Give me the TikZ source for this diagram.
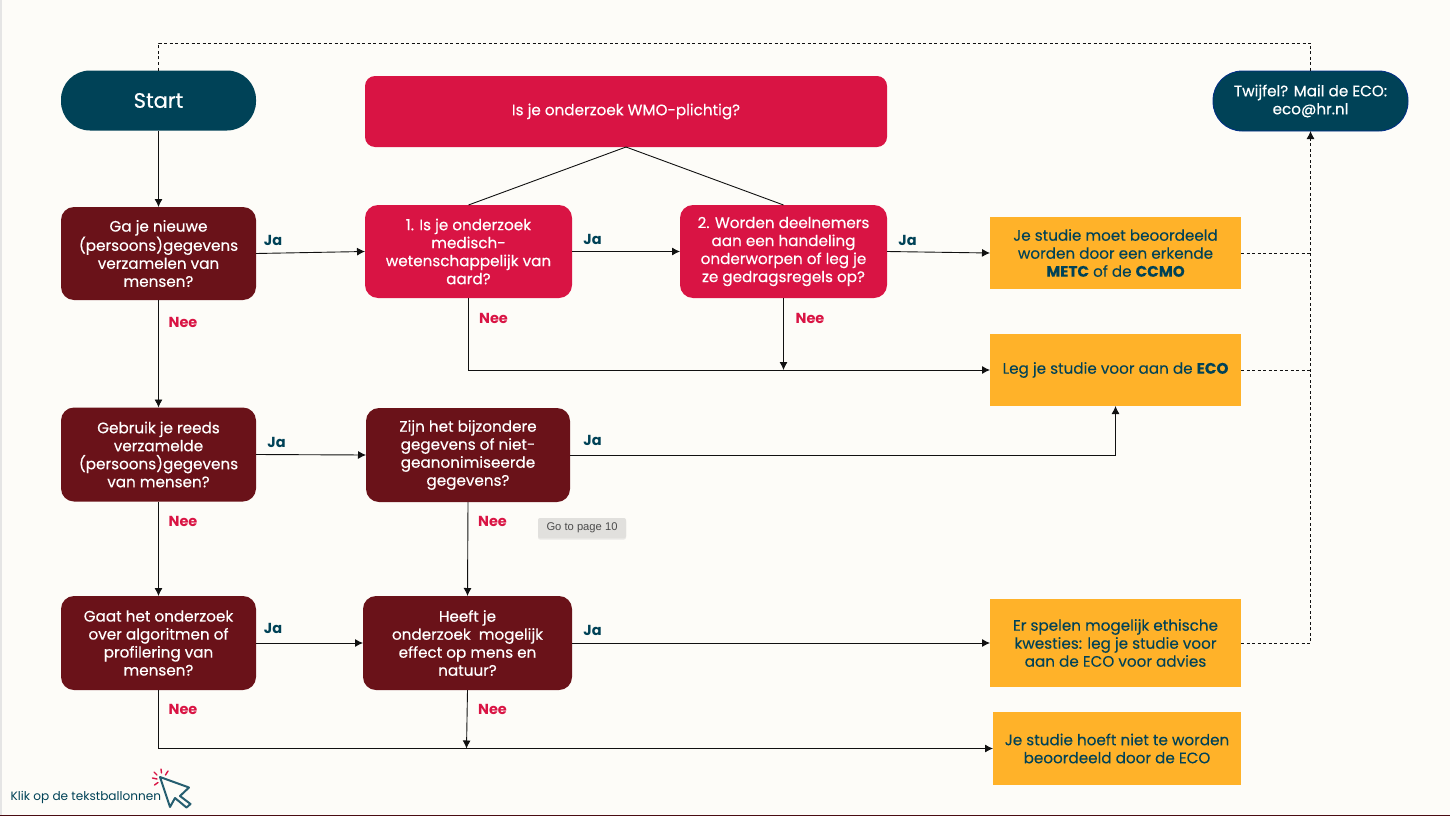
\documentclass[tikz,border=0pt]{standalone}
\usepackage{fontspec}
\setmainfont{Poppins}
\usetikzlibrary{arrows.meta,calc,shadows}
\definecolor{hrteal}{HTML}{004257}
\definecolor{crim}{HTML}{D91444}
\definecolor{wine}{HTML}{6A1219}
\definecolor{oran}{HTML}{FFB229}
\definecolor{paper}{HTML}{FDFCF8}
\definecolor{ink}{HTML}{111111}
\newfontfamily\medium[FakeBold=0.4]{Poppins}
\newfontfamily\orangefont[FakeBold=0.12]{Poppins}
\tikzset{
  box/.style args={#1/#2}{minimum width=#1pt,minimum height=#2pt,inner sep=0pt,outer sep=0pt,align=center,
     font=\fontsize{15.2}{18}\selectfont\medium,text=white},
  pill/.style={box=195/60,fill=hrteal,rounded corners=29pt},
  redbox/.style={fill=crim,rounded corners=13pt},
  winebox/.style={fill=wine,rounded corners=13pt},
  orangebox/.style={fill=oran,text=hrteal,rounded corners=0pt,font=\fontsize{15.2}{18}\selectfont\orangefont},
  jalab/.style={text=hrteal,font=\fontsize{14.5}{17}\selectfont\bfseries,inner sep=0pt},
  neelab/.style={text=crim,font=\fontsize{14.5}{17}\selectfont\bfseries,inner sep=0pt},
  conn/.style={draw=ink,line width=0.9pt},
  arrowline/.style={conn,-{Latex[length=8pt,width=8pt]}},
  dashline/.style={draw=ink,line width=0.9pt,dash pattern=on 3pt off 2.5pt},
}
\begin{document}
\begin{tikzpicture}[x=1pt,y=-1pt]
\useasboundingbox (0,0) rectangle (1450,816);
\fill[paper] (0,0) rectangle (1450,816);
\fill[black!10] (0,0) rectangle (1.5,816);
\fill[wine!70!black] (0,815) rectangle (1450,816);

% nodes
\node[pill,font=\fontsize{21}{24}\selectfont\medium] (start) at (158.5,100.5) {Start};
\node[pill,draw=hrteal!70!blue,line width=0.8pt] (tw) at (1310.5,101) {\raisebox{-1pt}{Twijfel? Mail de ECO:}\\\raisebox{-1pt}{eco@hr.nl}};
\node[box=522/71,redbox,rounded corners=10pt] (wmo) at (626,111.5) {\raisebox{-1pt}{Is je onderzoek WMO-plichtig?}};

\node[box=195/93,winebox] (q1) at (158.5,253.5) {Ga je nieuwe\\(persoons)gegevens\\verzamelen van\\mensen?};
\node[box=207/93,redbox] (m1) at (468.5,251.5) {1. Is je onderzoek\\medisch-\\wetenschappelijk van\\aard?};
\node[box=207/93,redbox] (m2) at (783.5,251.5) {2. Worden deelnemers\\aan een handeling\\onderworpen of leg je\\ze gedragsregels op?};
\node[box=251/72,orangebox] (o1) at (1115.5,253) {Je studie moet beoordeeld\\worden door een erkende\\{\bfseries METC} of de {\bfseries CCMO}};
\node[box=251/72,orangebox] (o2) at (1115.5,370) {\raisebox{-2pt}{Leg je studie voor aan de {\bfseries ECO}}};

\node[box=195/94,winebox] (q2) at (158.5,454.5) {Gebruik je reeds\\verzamelde\\(persoons)gegevens\\van mensen?};
\node[box=204/94,winebox] (z) at (468,455) {Zijn het bijzondere\\gegevens of niet-\\geanonimiseerde\\gegevens?};

\node[box=195/94,winebox] (q3) at (158.5,643) {Gaat het onderzoek\\over algoritmen of\\profilering van\\mensen?};
\node[box=209/94,winebox] (h) at (467.5,643) {Heeft je\\onderzoek\ \ mogelijk\\effect op mens en\\natuur?};
\node[box=251/88,orangebox] (o3) at (1115.5,643) {Er spelen mogelijk ethische\\kwesties: leg je studie voor\\aan de ECO voor advies};
\node[box=248/73,orangebox] (o4) at (1117,748.5) {Je studie hoeft niet te worden\\beoordeeld door de ECO};

% labels
\node[jalab] (ja1) at (273,240) {Ja};
\node[jalab] (ja2) at (592.5,239) {Ja};
\node[jalab] (ja3) at (907.5,240) {Ja};
\node[jalab] (ja4) at (276.5,442) {Ja};
\node[jalab] (ja5) at (592.5,440) {Ja};
\node[jalab] (ja6) at (273,628) {Ja};
\node[jalab] (ja7) at (592.5,630) {Ja};
\node[neelab] (n1) at (183,322) {Nee};
\node[neelab] (n2) at (493.5,318) {Nee};
\node[neelab] (n3) at (810,318) {Nee};
\node[neelab] (n4) at (183,521) {Nee};
\node[neelab] (n5) at (492.5,521) {Nee};
\node[neelab] (n6) at (183,709) {Nee};
\node[neelab] (n7) at (492.5,709) {Nee};

% helper coordinates
\coordinate (top) at (1310.5,43);
\coordinate (j1) at (m2.south |- o2.west);
\coordinate (j2) at (466.5,748.5);

% connectors
\draw[conn] (wmo.south) -- (m1.north);
\draw[conn] (wmo.south) -- (m2.north);
\draw[arrowline] (start.south) -- (q1.north);
\draw[arrowline] (q1.east) -- (m1.west);
\draw[arrowline] (m1.east) -- (m2.west);
\draw[arrowline] (m2.east) -- (o1.west);
\draw[arrowline] (m1.south) |- (o2.west);
\draw[arrowline] (m2.south) -- (j1);
\draw[arrowline] (q1.south) -- (q2.north);
\draw[arrowline] (q2.east) -- (z.west);
\draw[arrowline] (z.east) -| (o2.south);
\draw[arrowline] (q2.south) -- (q3.north);
\draw[arrowline] (z.south) -- (h.north);
\draw[arrowline] (q3.east) -- (h.west);
\draw[arrowline] (h.east) -- (o3.west);
\draw[arrowline] (q3.south) |- (o4.west);
\draw[arrowline] (h.south) -- (j2);
\draw[dashline] (start.north) |- (top) -- (tw.north);
\draw[dashline] (o1.east) -- (o1.east -| tw.south);
\draw[dashline] (o2.east) -- (o2.east -| tw.south);
\draw[dashline,-{Latex[length=8pt,width=8pt]}] (o3.east) -| (tw.south);

% tooltip
\node[fill=black!11!paper,rounded corners=2pt,minimum width=88pt,minimum height=20pt,inner sep=0pt,
  font=\fontsize{11.2}{13}\selectfont,text=black!70,drop shadow={shadow xshift=0pt,shadow yshift=-1.5pt,opacity=0.15}] (tip) at (582,528)
  {\fontspec{Liberation Sans}\raisebox{-0.5pt}{Go to page 10}};

% cursor note
\node[anchor=west,inner sep=0pt,text=hrteal,font=\fontsize{12.1}{14}\selectfont] (klik) at (10.5,797.5) {Klik op de tekstballonnen};
\draw[hrteal!85!white,line width=2pt,line join=round,fill=paper]
  (160,777) -- (189,787.5) -- (180,796) -- (190.5,804) -- (186.5,807.5) -- (175,798) -- (170,807) -- cycle;
\foreach \a/\b/\c/\d in {161/769/161.5/773, 168/771/165.5/775, 152.5/778/157/779, 154.5/785/158/782.5, 154/772/157/775}
  \draw[crim,line width=1.4pt,line cap=round] (\a,\b) -- (\c,\d);
\end{tikzpicture}
\end{document}
